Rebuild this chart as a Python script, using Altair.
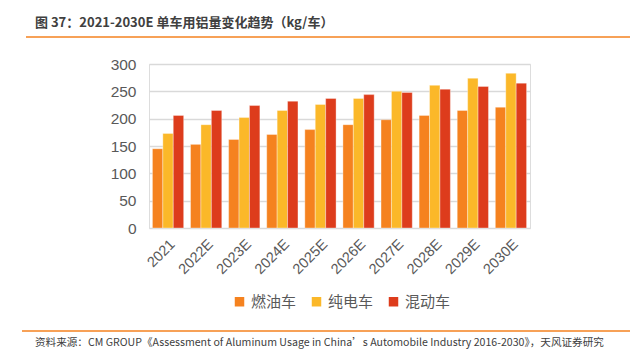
import altair as alt
import pandas as pd

years = ["2021", "2022E", "2023E", "2024E", "2025E", "2026E", "2027E", "2028E", "2029E", "2030E"]
series = ["燃油车", "纯电车", "混动车"]
fuel = [145, 153, 162, 171, 180, 189, 198, 206, 215, 221]
ev = [173, 189, 202, 215, 226, 237, 250, 261, 274, 283]
hybrid = [206, 215, 224, 232, 237, 244, 248, 254, 259, 265]
colors = ["#F5821F", "#FBB829", "#DD3C1C"]

title_text = "图 37：2021-2030E 单车用铝量变化趋势（kg/车）"
source_text = "资料来源：CM GROUP《Assessment of Aluminum Usage in China’s Automobile Industry 2016-2030》，天风证券研究"

rows = []
for s, vals in zip(series, [fuel, ev, hybrid]):
    for y, v in zip(years, vals):
        rows.append({"year": y, "series": s, "value": v})
df = pd.DataFrame(rows)

FONT = "Noto Sans CJK SC"
NUMFONT = "Liberation Sans, Noto Sans CJK SC"
L, T = 149, 64
W, H = 381, 164

bars = alt.Chart(df).mark_bar(stroke="white", strokeWidth=1, strokeOpacity=0.35).encode(
    x=alt.X("year:N", sort=years, title=None,
            scale=alt.Scale(paddingInner=0.18, paddingOuter=0.09),
            axis=alt.Axis(labelAngle=-45, labelFontSize=14.5, labelColor="#595959",
                          labelFont=NUMFONT, ticks=False, domain=False, labelPadding=9)),
    xOffset=alt.XOffset("series:N", sort=series),
    y=alt.Y("value:Q", title=None,
            scale=alt.Scale(domain=[0, 300]),
            axis=alt.Axis(values=[0, 50, 100, 150, 200, 250, 300], labelFontSize=15.5,
                          labelColor="#595959", labelFont=NUMFONT, ticks=False, domain=False,
                          gridColor="#D9D9D9", gridWidth=1.5, labelPadding=13)),
    color=alt.Color("series:N", sort=series, title=None,
                    scale=alt.Scale(domain=series, range=colors),
                    legend=alt.Legend(orient="none", legendX=83, legendY=230,
                                      direction="horizontal", symbolType="square",
                                      symbolSize=90, symbolStrokeWidth=0,
                                      labelFontSize=15, labelColor="#595959",
                                      labelFont=FONT, columnPadding=12)),
)

title = alt.Chart(pd.DataFrame({"t": [title_text]})).mark_text(
    align="left", baseline="middle", fontSize=13, fontWeight="bold",
    color="#404040", font=FONT, clip=False
).encode(text="t:N", x=alt.value(35 - L), y=alt.value(23 - T))

source = alt.Chart(pd.DataFrame({"t": [source_text]})).mark_text(
    align="left", baseline="middle", fontSize=10.6, color="#404040", font=FONT, clip=False
).encode(text="t:N", x=alt.value(35 - L), y=alt.value(343 - T))

line_top = alt.Chart(pd.DataFrame({"a": [0]})).mark_rule(
    color="#F5821F", strokeWidth=1.5, clip=False
).encode(x=alt.value(26 - L), x2=alt.value(630 - L), y=alt.value(37 - T))

line_bot = alt.Chart(pd.DataFrame({"a": [0]})).mark_rule(
    color="#F5821F", strokeWidth=1.5, clip=False
).encode(x=alt.value(22 - L), x2=alt.value(630 - L), y=alt.value(331 - T))

chart = alt.layer(bars, title, source, line_top, line_bot).properties(
    width=W, height=H,
    autosize=alt.AutoSizeParams(type="none"),
    padding={"left": L, "top": T, "right": 630 - L - W, "bottom": 353 - T - H},
).configure_view(stroke=None).configure(background="white")

chart.save("out.html", embed_options={"renderer": "svg", "actions": False})
